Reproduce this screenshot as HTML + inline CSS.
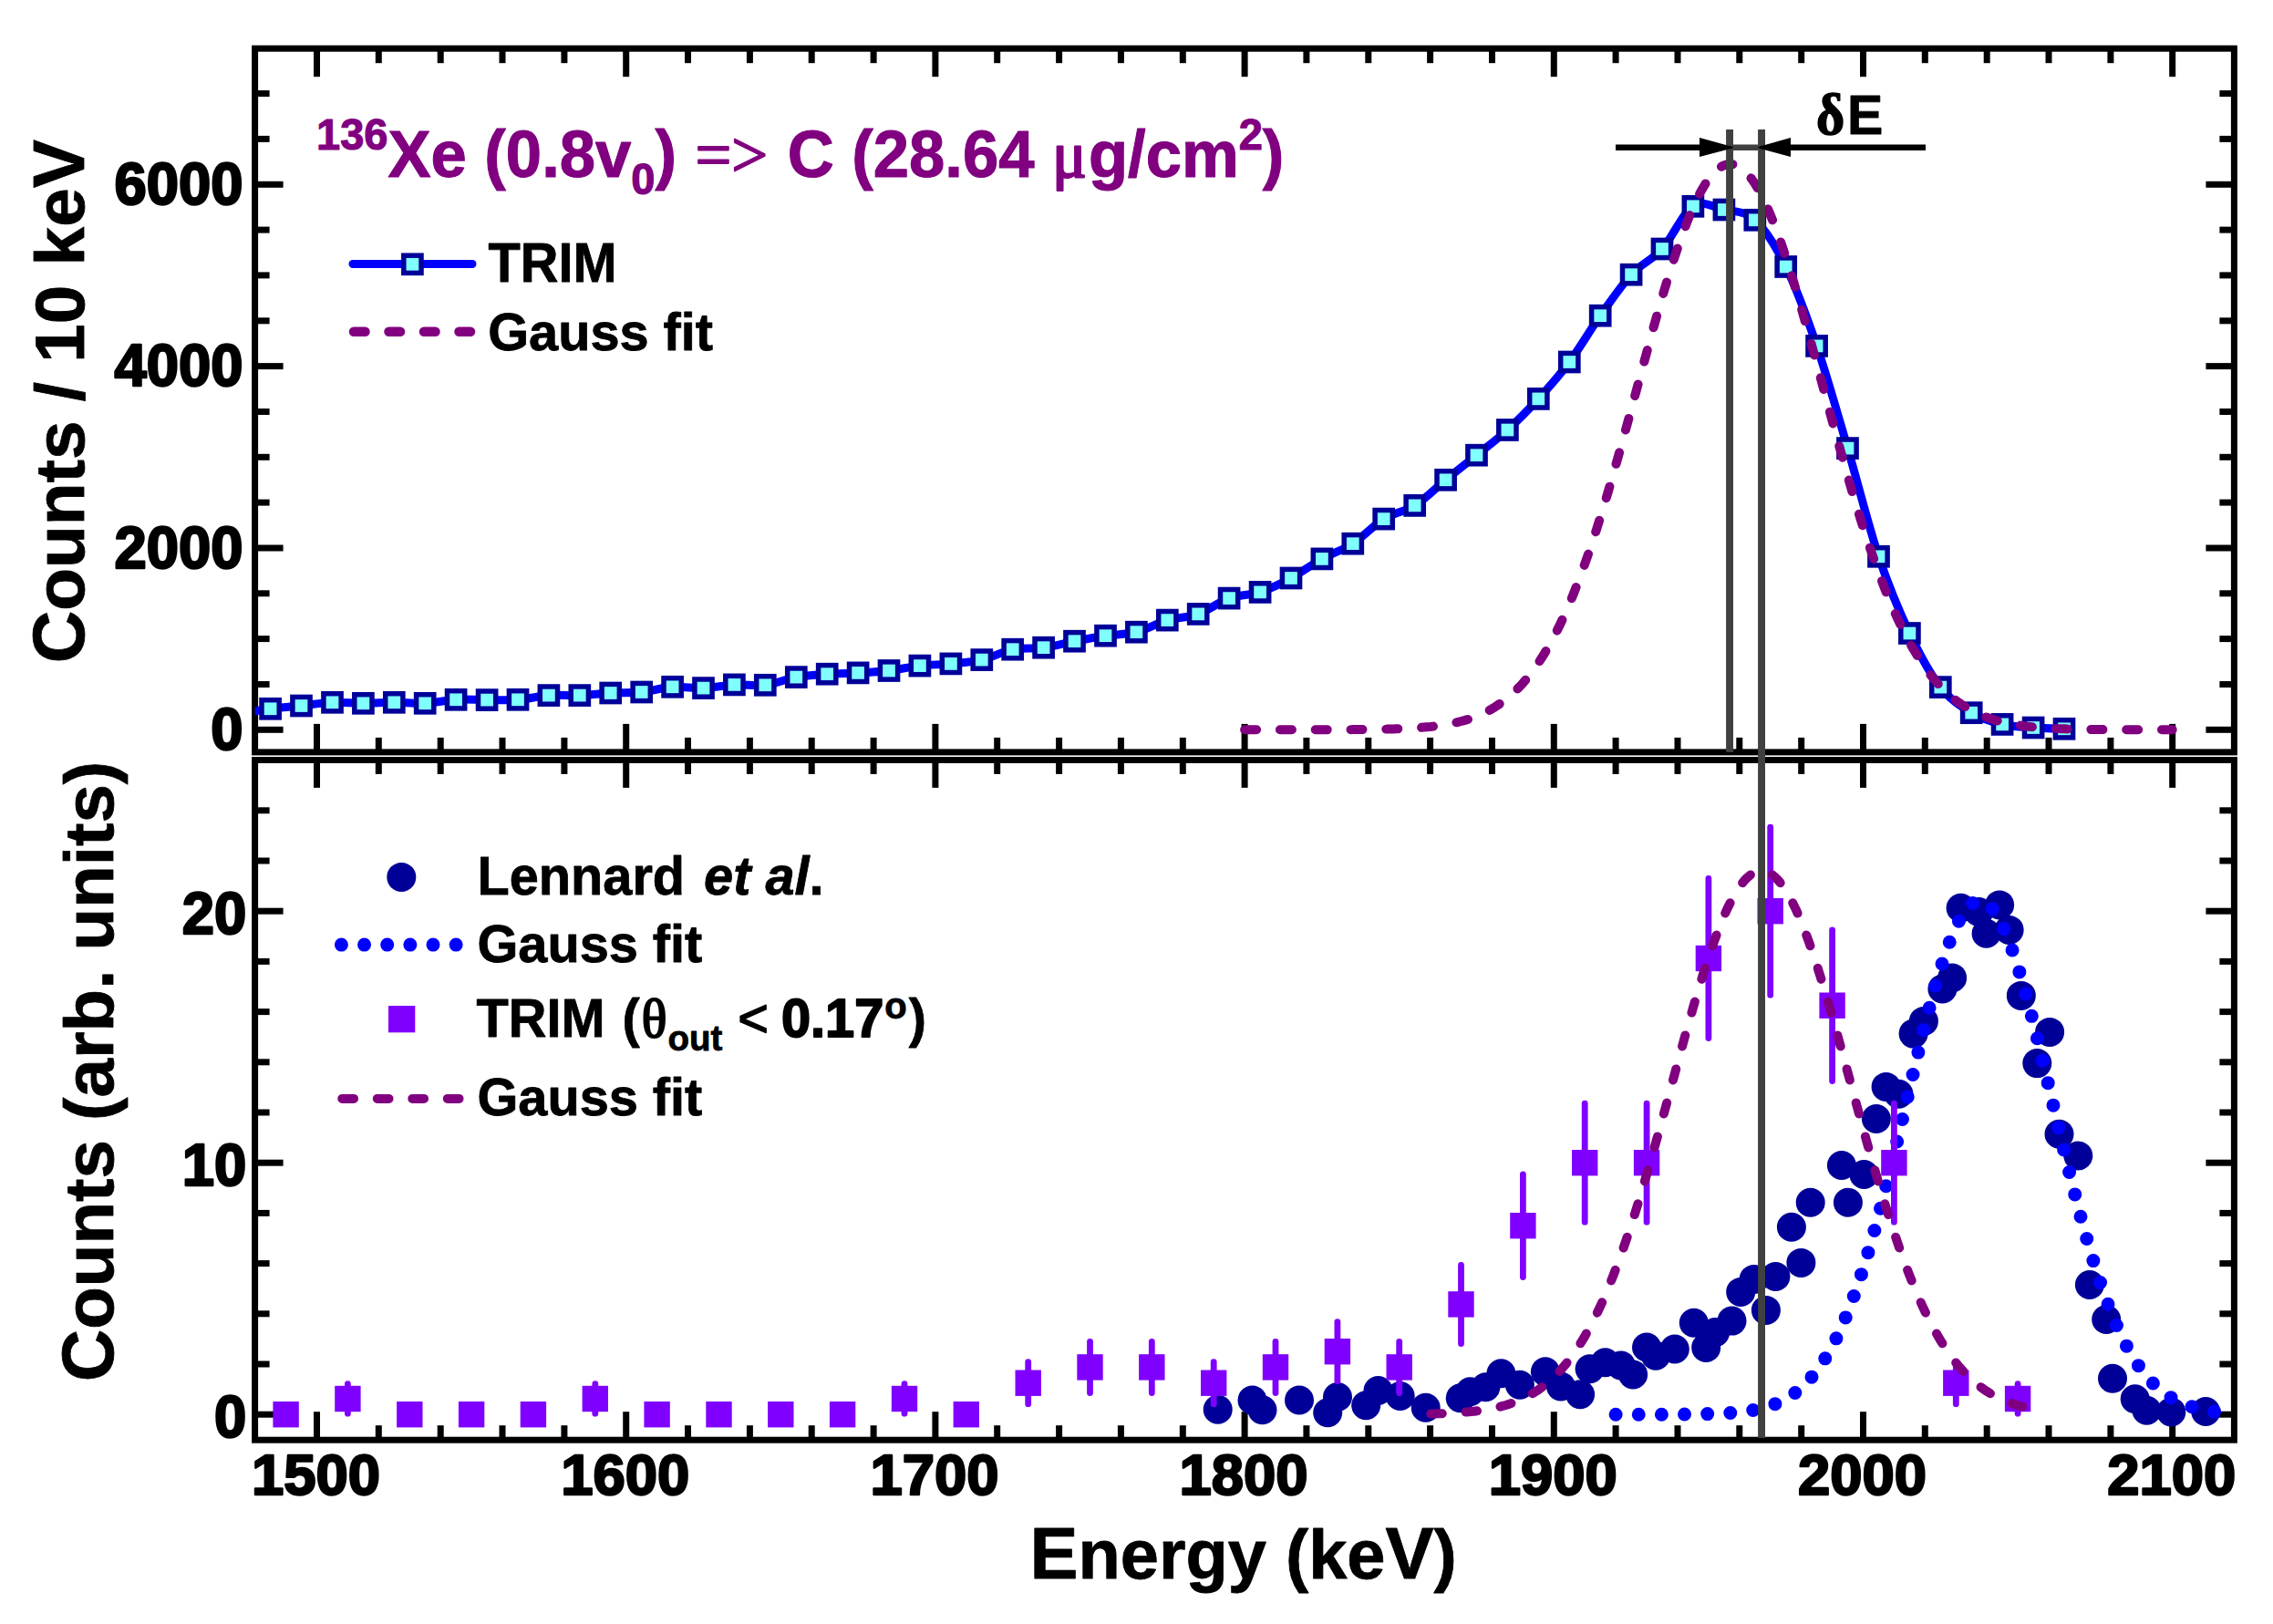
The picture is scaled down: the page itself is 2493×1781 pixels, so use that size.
<!DOCTYPE html>
<html><head><meta charset="utf-8"><title>Energy spectrum</title>
<style>html,body{margin:0;padding:0;background:#fff}svg{display:block}</style></head>
<body>
<svg width="2493" height="1781" viewBox="0 0 2493 1781" font-family="'Liberation Sans', Arial, sans-serif" font-weight="bold">
<rect width="2493" height="1781" fill="#fff"/>
<defs>
<clipPath id="c1"><rect x="279.6" y="53.2" width="2170.8" height="771.6999999999999"/></clipPath>
<clipPath id="c2"><rect x="279.6" y="833.5" width="2170.8" height="745.7"/></clipPath>
</defs>
<g stroke="#000" stroke-width="7" fill="none">
<rect x="279.6" y="53.2" width="2170.8" height="771.6999999999999"/>
<rect x="279.6" y="833.5" width="2170.8" height="745.7"/>
<line x1="347.5" x2="347.5" y1="53.2" y2="84.2"/>
<line x1="347.5" x2="347.5" y1="824.9" y2="793.9"/>
<line x1="347.5" x2="347.5" y1="833.5" y2="863.9"/>
<line x1="347.5" x2="347.5" y1="1579.2" y2="1548.2"/>
<line x1="415.3" x2="415.3" y1="53.2" y2="69.2"/>
<line x1="415.3" x2="415.3" y1="824.9" y2="808.9"/>
<line x1="415.3" x2="415.3" y1="833.5" y2="848.9"/>
<line x1="415.3" x2="415.3" y1="1579.2" y2="1563.2"/>
<line x1="483.2" x2="483.2" y1="53.2" y2="69.2"/>
<line x1="483.2" x2="483.2" y1="824.9" y2="808.9"/>
<line x1="483.2" x2="483.2" y1="833.5" y2="848.9"/>
<line x1="483.2" x2="483.2" y1="1579.2" y2="1563.2"/>
<line x1="551.0" x2="551.0" y1="53.2" y2="69.2"/>
<line x1="551.0" x2="551.0" y1="824.9" y2="808.9"/>
<line x1="551.0" x2="551.0" y1="833.5" y2="848.9"/>
<line x1="551.0" x2="551.0" y1="1579.2" y2="1563.2"/>
<line x1="618.9" x2="618.9" y1="53.2" y2="69.2"/>
<line x1="618.9" x2="618.9" y1="824.9" y2="808.9"/>
<line x1="618.9" x2="618.9" y1="833.5" y2="848.9"/>
<line x1="618.9" x2="618.9" y1="1579.2" y2="1563.2"/>
<line x1="686.7" x2="686.7" y1="53.2" y2="84.2"/>
<line x1="686.7" x2="686.7" y1="824.9" y2="793.9"/>
<line x1="686.7" x2="686.7" y1="833.5" y2="863.9"/>
<line x1="686.7" x2="686.7" y1="1579.2" y2="1548.2"/>
<line x1="754.5" x2="754.5" y1="53.2" y2="69.2"/>
<line x1="754.5" x2="754.5" y1="824.9" y2="808.9"/>
<line x1="754.5" x2="754.5" y1="833.5" y2="848.9"/>
<line x1="754.5" x2="754.5" y1="1579.2" y2="1563.2"/>
<line x1="822.4" x2="822.4" y1="53.2" y2="69.2"/>
<line x1="822.4" x2="822.4" y1="824.9" y2="808.9"/>
<line x1="822.4" x2="822.4" y1="833.5" y2="848.9"/>
<line x1="822.4" x2="822.4" y1="1579.2" y2="1563.2"/>
<line x1="890.2" x2="890.2" y1="53.2" y2="69.2"/>
<line x1="890.2" x2="890.2" y1="824.9" y2="808.9"/>
<line x1="890.2" x2="890.2" y1="833.5" y2="848.9"/>
<line x1="890.2" x2="890.2" y1="1579.2" y2="1563.2"/>
<line x1="958.1" x2="958.1" y1="53.2" y2="69.2"/>
<line x1="958.1" x2="958.1" y1="824.9" y2="808.9"/>
<line x1="958.1" x2="958.1" y1="833.5" y2="848.9"/>
<line x1="958.1" x2="958.1" y1="1579.2" y2="1563.2"/>
<line x1="1025.9" x2="1025.9" y1="53.2" y2="84.2"/>
<line x1="1025.9" x2="1025.9" y1="824.9" y2="793.9"/>
<line x1="1025.9" x2="1025.9" y1="833.5" y2="863.9"/>
<line x1="1025.9" x2="1025.9" y1="1579.2" y2="1548.2"/>
<line x1="1093.7" x2="1093.7" y1="53.2" y2="69.2"/>
<line x1="1093.7" x2="1093.7" y1="824.9" y2="808.9"/>
<line x1="1093.7" x2="1093.7" y1="833.5" y2="848.9"/>
<line x1="1093.7" x2="1093.7" y1="1579.2" y2="1563.2"/>
<line x1="1161.6" x2="1161.6" y1="53.2" y2="69.2"/>
<line x1="1161.6" x2="1161.6" y1="824.9" y2="808.9"/>
<line x1="1161.6" x2="1161.6" y1="833.5" y2="848.9"/>
<line x1="1161.6" x2="1161.6" y1="1579.2" y2="1563.2"/>
<line x1="1229.4" x2="1229.4" y1="53.2" y2="69.2"/>
<line x1="1229.4" x2="1229.4" y1="824.9" y2="808.9"/>
<line x1="1229.4" x2="1229.4" y1="833.5" y2="848.9"/>
<line x1="1229.4" x2="1229.4" y1="1579.2" y2="1563.2"/>
<line x1="1297.3" x2="1297.3" y1="53.2" y2="69.2"/>
<line x1="1297.3" x2="1297.3" y1="824.9" y2="808.9"/>
<line x1="1297.3" x2="1297.3" y1="833.5" y2="848.9"/>
<line x1="1297.3" x2="1297.3" y1="1579.2" y2="1563.2"/>
<line x1="1365.1" x2="1365.1" y1="53.2" y2="84.2"/>
<line x1="1365.1" x2="1365.1" y1="824.9" y2="793.9"/>
<line x1="1365.1" x2="1365.1" y1="833.5" y2="863.9"/>
<line x1="1365.1" x2="1365.1" y1="1579.2" y2="1548.2"/>
<line x1="1432.9" x2="1432.9" y1="53.2" y2="69.2"/>
<line x1="1432.9" x2="1432.9" y1="824.9" y2="808.9"/>
<line x1="1432.9" x2="1432.9" y1="833.5" y2="848.9"/>
<line x1="1432.9" x2="1432.9" y1="1579.2" y2="1563.2"/>
<line x1="1500.8" x2="1500.8" y1="53.2" y2="69.2"/>
<line x1="1500.8" x2="1500.8" y1="824.9" y2="808.9"/>
<line x1="1500.8" x2="1500.8" y1="833.5" y2="848.9"/>
<line x1="1500.8" x2="1500.8" y1="1579.2" y2="1563.2"/>
<line x1="1568.6" x2="1568.6" y1="53.2" y2="69.2"/>
<line x1="1568.6" x2="1568.6" y1="824.9" y2="808.9"/>
<line x1="1568.6" x2="1568.6" y1="833.5" y2="848.9"/>
<line x1="1568.6" x2="1568.6" y1="1579.2" y2="1563.2"/>
<line x1="1636.5" x2="1636.5" y1="53.2" y2="69.2"/>
<line x1="1636.5" x2="1636.5" y1="824.9" y2="808.9"/>
<line x1="1636.5" x2="1636.5" y1="833.5" y2="848.9"/>
<line x1="1636.5" x2="1636.5" y1="1579.2" y2="1563.2"/>
<line x1="1704.3" x2="1704.3" y1="53.2" y2="84.2"/>
<line x1="1704.3" x2="1704.3" y1="824.9" y2="793.9"/>
<line x1="1704.3" x2="1704.3" y1="833.5" y2="863.9"/>
<line x1="1704.3" x2="1704.3" y1="1579.2" y2="1548.2"/>
<line x1="1772.1" x2="1772.1" y1="53.2" y2="69.2"/>
<line x1="1772.1" x2="1772.1" y1="824.9" y2="808.9"/>
<line x1="1772.1" x2="1772.1" y1="833.5" y2="848.9"/>
<line x1="1772.1" x2="1772.1" y1="1579.2" y2="1563.2"/>
<line x1="1840.0" x2="1840.0" y1="53.2" y2="69.2"/>
<line x1="1840.0" x2="1840.0" y1="824.9" y2="808.9"/>
<line x1="1840.0" x2="1840.0" y1="833.5" y2="848.9"/>
<line x1="1840.0" x2="1840.0" y1="1579.2" y2="1563.2"/>
<line x1="1907.8" x2="1907.8" y1="53.2" y2="69.2"/>
<line x1="1907.8" x2="1907.8" y1="824.9" y2="808.9"/>
<line x1="1907.8" x2="1907.8" y1="833.5" y2="848.9"/>
<line x1="1907.8" x2="1907.8" y1="1579.2" y2="1563.2"/>
<line x1="1975.7" x2="1975.7" y1="53.2" y2="69.2"/>
<line x1="1975.7" x2="1975.7" y1="824.9" y2="808.9"/>
<line x1="1975.7" x2="1975.7" y1="833.5" y2="848.9"/>
<line x1="1975.7" x2="1975.7" y1="1579.2" y2="1563.2"/>
<line x1="2043.5" x2="2043.5" y1="53.2" y2="84.2"/>
<line x1="2043.5" x2="2043.5" y1="824.9" y2="793.9"/>
<line x1="2043.5" x2="2043.5" y1="833.5" y2="863.9"/>
<line x1="2043.5" x2="2043.5" y1="1579.2" y2="1548.2"/>
<line x1="2111.3" x2="2111.3" y1="53.2" y2="69.2"/>
<line x1="2111.3" x2="2111.3" y1="824.9" y2="808.9"/>
<line x1="2111.3" x2="2111.3" y1="833.5" y2="848.9"/>
<line x1="2111.3" x2="2111.3" y1="1579.2" y2="1563.2"/>
<line x1="2179.2" x2="2179.2" y1="53.2" y2="69.2"/>
<line x1="2179.2" x2="2179.2" y1="824.9" y2="808.9"/>
<line x1="2179.2" x2="2179.2" y1="833.5" y2="848.9"/>
<line x1="2179.2" x2="2179.2" y1="1579.2" y2="1563.2"/>
<line x1="2247.0" x2="2247.0" y1="53.2" y2="69.2"/>
<line x1="2247.0" x2="2247.0" y1="824.9" y2="808.9"/>
<line x1="2247.0" x2="2247.0" y1="833.5" y2="848.9"/>
<line x1="2247.0" x2="2247.0" y1="1579.2" y2="1563.2"/>
<line x1="2314.9" x2="2314.9" y1="53.2" y2="69.2"/>
<line x1="2314.9" x2="2314.9" y1="824.9" y2="808.9"/>
<line x1="2314.9" x2="2314.9" y1="833.5" y2="848.9"/>
<line x1="2314.9" x2="2314.9" y1="1579.2" y2="1563.2"/>
<line x1="2382.7" x2="2382.7" y1="53.2" y2="84.2"/>
<line x1="2382.7" x2="2382.7" y1="824.9" y2="793.9"/>
<line x1="2382.7" x2="2382.7" y1="833.5" y2="863.9"/>
<line x1="2382.7" x2="2382.7" y1="1579.2" y2="1548.2"/>
<line x1="279.6" x2="310.6" y1="800.3" y2="800.3"/>
<line x1="2450.4" x2="2419.4" y1="800.3" y2="800.3"/>
<line x1="279.6" x2="295.6" y1="750.5" y2="750.5"/>
<line x1="2450.4" x2="2434.4" y1="750.5" y2="750.5"/>
<line x1="279.6" x2="295.6" y1="700.6" y2="700.6"/>
<line x1="2450.4" x2="2434.4" y1="700.6" y2="700.6"/>
<line x1="279.6" x2="295.6" y1="650.8" y2="650.8"/>
<line x1="2450.4" x2="2434.4" y1="650.8" y2="650.8"/>
<line x1="279.6" x2="310.6" y1="601.0" y2="601.0"/>
<line x1="2450.4" x2="2419.4" y1="601.0" y2="601.0"/>
<line x1="279.6" x2="295.6" y1="551.1" y2="551.1"/>
<line x1="2450.4" x2="2434.4" y1="551.1" y2="551.1"/>
<line x1="279.6" x2="295.6" y1="501.3" y2="501.3"/>
<line x1="2450.4" x2="2434.4" y1="501.3" y2="501.3"/>
<line x1="279.6" x2="295.6" y1="451.5" y2="451.5"/>
<line x1="2450.4" x2="2434.4" y1="451.5" y2="451.5"/>
<line x1="279.6" x2="310.6" y1="401.6" y2="401.6"/>
<line x1="2450.4" x2="2419.4" y1="401.6" y2="401.6"/>
<line x1="279.6" x2="295.6" y1="351.8" y2="351.8"/>
<line x1="2450.4" x2="2434.4" y1="351.8" y2="351.8"/>
<line x1="279.6" x2="295.6" y1="301.9" y2="301.9"/>
<line x1="2450.4" x2="2434.4" y1="301.9" y2="301.9"/>
<line x1="279.6" x2="295.6" y1="252.1" y2="252.1"/>
<line x1="2450.4" x2="2434.4" y1="252.1" y2="252.1"/>
<line x1="279.6" x2="310.6" y1="202.3" y2="202.3"/>
<line x1="2450.4" x2="2419.4" y1="202.3" y2="202.3"/>
<line x1="279.6" x2="295.6" y1="152.4" y2="152.4"/>
<line x1="2450.4" x2="2434.4" y1="152.4" y2="152.4"/>
<line x1="279.6" x2="295.6" y1="102.6" y2="102.6"/>
<line x1="2450.4" x2="2434.4" y1="102.6" y2="102.6"/>
<line x1="279.6" x2="310.6" y1="1551.2" y2="1551.2"/>
<line x1="2450.4" x2="2419.4" y1="1551.2" y2="1551.2"/>
<line x1="279.6" x2="295.6" y1="1496.0" y2="1496.0"/>
<line x1="2450.4" x2="2434.4" y1="1496.0" y2="1496.0"/>
<line x1="279.6" x2="295.6" y1="1440.8" y2="1440.8"/>
<line x1="2450.4" x2="2434.4" y1="1440.8" y2="1440.8"/>
<line x1="279.6" x2="295.6" y1="1385.6" y2="1385.6"/>
<line x1="2450.4" x2="2434.4" y1="1385.6" y2="1385.6"/>
<line x1="279.6" x2="295.6" y1="1330.4" y2="1330.4"/>
<line x1="2450.4" x2="2434.4" y1="1330.4" y2="1330.4"/>
<line x1="279.6" x2="310.6" y1="1275.2" y2="1275.2"/>
<line x1="2450.4" x2="2419.4" y1="1275.2" y2="1275.2"/>
<line x1="279.6" x2="295.6" y1="1220.0" y2="1220.0"/>
<line x1="2450.4" x2="2434.4" y1="1220.0" y2="1220.0"/>
<line x1="279.6" x2="295.6" y1="1164.8" y2="1164.8"/>
<line x1="2450.4" x2="2434.4" y1="1164.8" y2="1164.8"/>
<line x1="279.6" x2="295.6" y1="1109.6" y2="1109.6"/>
<line x1="2450.4" x2="2434.4" y1="1109.6" y2="1109.6"/>
<line x1="279.6" x2="295.6" y1="1054.4" y2="1054.4"/>
<line x1="2450.4" x2="2434.4" y1="1054.4" y2="1054.4"/>
<line x1="279.6" x2="310.6" y1="999.2" y2="999.2"/>
<line x1="2450.4" x2="2419.4" y1="999.2" y2="999.2"/>
<line x1="279.6" x2="295.6" y1="944.0" y2="944.0"/>
<line x1="2450.4" x2="2434.4" y1="944.0" y2="944.0"/>
<line x1="279.6" x2="295.6" y1="888.8" y2="888.8"/>
<line x1="2450.4" x2="2434.4" y1="888.8" y2="888.8"/>
</g>
<g clip-path="url(#c1)">
<path d="M279.6 780.0 C282.4 779.5 288.1 778.3 296.6 777.3 C305.1 776.3 319.2 775.2 330.5 774.0 C341.8 772.8 353.2 770.8 364.5 770.3 C375.8 769.8 387.1 771.3 398.4 771.3 C409.7 771.3 421.0 770.3 432.3 770.3 C443.6 770.3 454.9 771.8 466.2 771.3 C477.5 770.8 488.8 767.9 500.1 767.3 C511.4 766.7 522.8 767.6 534.1 767.6 C545.4 767.6 556.7 768.1 568.0 767.3 C579.3 766.5 590.6 763.4 601.9 762.6 C613.2 761.8 624.5 763.0 635.8 762.6 C647.1 762.2 658.4 760.6 669.7 760.0 C681.0 759.4 692.4 760.1 703.7 759.0 C715.0 757.9 726.3 754.0 737.6 753.3 C748.9 752.6 760.2 755.0 771.5 754.6 C782.8 754.2 794.1 751.5 805.4 750.9 C816.7 750.3 828.0 752.7 839.3 751.3 C850.6 749.9 862.0 744.6 873.3 742.6 C884.6 740.6 895.9 740.0 907.2 739.2 C918.5 738.4 929.8 738.5 941.1 737.9 C952.4 737.3 963.7 736.8 975.0 735.5 C986.3 734.2 997.6 731.4 1008.9 730.1 C1020.2 728.8 1031.6 729.0 1042.9 727.9 C1054.2 726.8 1065.5 726.2 1076.8 723.6 C1088.1 721.0 1099.4 714.4 1110.7 712.2 C1122.0 710.0 1133.3 711.7 1144.6 710.2 C1155.9 708.7 1167.2 705.4 1178.5 703.2 C1189.8 701.0 1201.2 698.9 1212.5 697.2 C1223.8 695.5 1235.1 696.1 1246.4 693.2 C1257.7 690.4 1269.0 683.4 1280.3 680.1 C1291.6 676.8 1302.9 677.4 1314.2 673.4 C1325.5 669.4 1336.8 660.1 1348.1 656.1 C1359.4 652.1 1370.8 653.1 1382.1 649.4 C1393.4 645.7 1404.7 640.1 1416.0 634.0 C1427.3 627.9 1438.6 619.2 1449.9 612.9 C1461.2 606.6 1472.5 603.5 1483.8 596.2 C1495.1 588.9 1506.4 576.1 1517.7 569.1 C1529.0 562.1 1540.4 561.5 1551.7 554.4 C1563.0 547.3 1574.3 535.5 1585.6 526.3 C1596.9 517.1 1608.2 508.3 1619.5 499.2 C1630.8 490.1 1642.1 481.8 1653.4 471.5 C1664.7 461.2 1676.0 449.8 1687.3 437.4 C1698.6 425.0 1710.0 412.2 1721.3 397.0 C1732.6 381.8 1743.9 362.2 1755.2 346.2 C1766.5 330.3 1777.8 313.5 1789.1 301.2 C1800.4 289.0 1811.7 285.5 1823.0 273.0 C1834.3 260.5 1845.6 233.4 1856.9 226.2 C1868.2 219.1 1879.6 227.5 1890.9 230.0 C1902.2 232.5 1913.5 230.8 1924.8 241.2 C1936.1 251.7 1947.4 269.5 1958.7 292.5 C1970.0 315.5 1981.3 346.2 1992.6 379.4 C2003.9 412.6 2015.2 453.1 2026.5 491.6 C2037.8 530.1 2049.2 576.5 2060.5 610.3 C2071.8 644.1 2083.1 670.6 2094.4 694.5 C2105.7 718.4 2117.0 739.1 2128.3 753.6 C2139.6 768.1 2150.9 774.9 2162.2 781.7 C2173.5 788.5 2184.8 791.7 2196.1 794.4 C2207.4 797.1 2218.8 797.2 2230.1 798.0 C2241.4 798.8 2258.3 799.1 2264.0 799.3" fill="none" stroke="#0000ff" stroke-width="9" stroke-linejoin="round" stroke-linecap="round"/>
<rect x="287.0" y="767.7" width="19.2" height="19.2" fill="#80ffff" stroke="#000099" stroke-width="5.5"/>
<rect x="320.9" y="764.4" width="19.2" height="19.2" fill="#80ffff" stroke="#000099" stroke-width="5.5"/>
<rect x="354.9" y="760.7" width="19.2" height="19.2" fill="#80ffff" stroke="#000099" stroke-width="5.5"/>
<rect x="388.8" y="761.7" width="19.2" height="19.2" fill="#80ffff" stroke="#000099" stroke-width="5.5"/>
<rect x="422.7" y="760.7" width="19.2" height="19.2" fill="#80ffff" stroke="#000099" stroke-width="5.5"/>
<rect x="456.6" y="761.7" width="19.2" height="19.2" fill="#80ffff" stroke="#000099" stroke-width="5.5"/>
<rect x="490.5" y="757.7" width="19.2" height="19.2" fill="#80ffff" stroke="#000099" stroke-width="5.5"/>
<rect x="524.5" y="758.0" width="19.2" height="19.2" fill="#80ffff" stroke="#000099" stroke-width="5.5"/>
<rect x="558.4" y="757.7" width="19.2" height="19.2" fill="#80ffff" stroke="#000099" stroke-width="5.5"/>
<rect x="592.3" y="753.0" width="19.2" height="19.2" fill="#80ffff" stroke="#000099" stroke-width="5.5"/>
<rect x="626.2" y="753.0" width="19.2" height="19.2" fill="#80ffff" stroke="#000099" stroke-width="5.5"/>
<rect x="660.1" y="750.4" width="19.2" height="19.2" fill="#80ffff" stroke="#000099" stroke-width="5.5"/>
<rect x="694.1" y="749.4" width="19.2" height="19.2" fill="#80ffff" stroke="#000099" stroke-width="5.5"/>
<rect x="728.0" y="743.7" width="19.2" height="19.2" fill="#80ffff" stroke="#000099" stroke-width="5.5"/>
<rect x="761.9" y="745.0" width="19.2" height="19.2" fill="#80ffff" stroke="#000099" stroke-width="5.5"/>
<rect x="795.8" y="741.3" width="19.2" height="19.2" fill="#80ffff" stroke="#000099" stroke-width="5.5"/>
<rect x="829.7" y="741.7" width="19.2" height="19.2" fill="#80ffff" stroke="#000099" stroke-width="5.5"/>
<rect x="863.7" y="733.0" width="19.2" height="19.2" fill="#80ffff" stroke="#000099" stroke-width="5.5"/>
<rect x="897.6" y="729.6" width="19.2" height="19.2" fill="#80ffff" stroke="#000099" stroke-width="5.5"/>
<rect x="931.5" y="728.3" width="19.2" height="19.2" fill="#80ffff" stroke="#000099" stroke-width="5.5"/>
<rect x="965.4" y="725.9" width="19.2" height="19.2" fill="#80ffff" stroke="#000099" stroke-width="5.5"/>
<rect x="999.3" y="720.5" width="19.2" height="19.2" fill="#80ffff" stroke="#000099" stroke-width="5.5"/>
<rect x="1033.3" y="718.3" width="19.2" height="19.2" fill="#80ffff" stroke="#000099" stroke-width="5.5"/>
<rect x="1067.2" y="714.0" width="19.2" height="19.2" fill="#80ffff" stroke="#000099" stroke-width="5.5"/>
<rect x="1101.1" y="702.6" width="19.2" height="19.2" fill="#80ffff" stroke="#000099" stroke-width="5.5"/>
<rect x="1135.0" y="700.6" width="19.2" height="19.2" fill="#80ffff" stroke="#000099" stroke-width="5.5"/>
<rect x="1168.9" y="693.6" width="19.2" height="19.2" fill="#80ffff" stroke="#000099" stroke-width="5.5"/>
<rect x="1202.9" y="687.6" width="19.2" height="19.2" fill="#80ffff" stroke="#000099" stroke-width="5.5"/>
<rect x="1236.8" y="683.6" width="19.2" height="19.2" fill="#80ffff" stroke="#000099" stroke-width="5.5"/>
<rect x="1270.7" y="670.5" width="19.2" height="19.2" fill="#80ffff" stroke="#000099" stroke-width="5.5"/>
<rect x="1304.6" y="663.8" width="19.2" height="19.2" fill="#80ffff" stroke="#000099" stroke-width="5.5"/>
<rect x="1338.5" y="646.5" width="19.2" height="19.2" fill="#80ffff" stroke="#000099" stroke-width="5.5"/>
<rect x="1372.5" y="639.8" width="19.2" height="19.2" fill="#80ffff" stroke="#000099" stroke-width="5.5"/>
<rect x="1406.4" y="624.4" width="19.2" height="19.2" fill="#80ffff" stroke="#000099" stroke-width="5.5"/>
<rect x="1440.3" y="603.3" width="19.2" height="19.2" fill="#80ffff" stroke="#000099" stroke-width="5.5"/>
<rect x="1474.2" y="586.6" width="19.2" height="19.2" fill="#80ffff" stroke="#000099" stroke-width="5.5"/>
<rect x="1508.1" y="559.5" width="19.2" height="19.2" fill="#80ffff" stroke="#000099" stroke-width="5.5"/>
<rect x="1542.1" y="544.8" width="19.2" height="19.2" fill="#80ffff" stroke="#000099" stroke-width="5.5"/>
<rect x="1576.0" y="516.7" width="19.2" height="19.2" fill="#80ffff" stroke="#000099" stroke-width="5.5"/>
<rect x="1609.9" y="489.6" width="19.2" height="19.2" fill="#80ffff" stroke="#000099" stroke-width="5.5"/>
<rect x="1643.8" y="461.9" width="19.2" height="19.2" fill="#80ffff" stroke="#000099" stroke-width="5.5"/>
<rect x="1677.7" y="427.8" width="19.2" height="19.2" fill="#80ffff" stroke="#000099" stroke-width="5.5"/>
<rect x="1711.7" y="387.4" width="19.2" height="19.2" fill="#80ffff" stroke="#000099" stroke-width="5.5"/>
<rect x="1745.6" y="336.6" width="19.2" height="19.2" fill="#80ffff" stroke="#000099" stroke-width="5.5"/>
<rect x="1779.5" y="291.6" width="19.2" height="19.2" fill="#80ffff" stroke="#000099" stroke-width="5.5"/>
<rect x="1813.4" y="263.4" width="19.2" height="19.2" fill="#80ffff" stroke="#000099" stroke-width="5.5"/>
<rect x="1847.3" y="216.7" width="19.2" height="19.2" fill="#80ffff" stroke="#000099" stroke-width="5.5"/>
<rect x="1881.3" y="220.4" width="19.2" height="19.2" fill="#80ffff" stroke="#000099" stroke-width="5.5"/>
<rect x="1915.2" y="231.7" width="19.2" height="19.2" fill="#80ffff" stroke="#000099" stroke-width="5.5"/>
<rect x="1949.1" y="282.9" width="19.2" height="19.2" fill="#80ffff" stroke="#000099" stroke-width="5.5"/>
<rect x="1983.0" y="369.8" width="19.2" height="19.2" fill="#80ffff" stroke="#000099" stroke-width="5.5"/>
<rect x="2016.9" y="482.0" width="19.2" height="19.2" fill="#80ffff" stroke="#000099" stroke-width="5.5"/>
<rect x="2050.9" y="600.7" width="19.2" height="19.2" fill="#80ffff" stroke="#000099" stroke-width="5.5"/>
<rect x="2084.8" y="684.9" width="19.2" height="19.2" fill="#80ffff" stroke="#000099" stroke-width="5.5"/>
<rect x="2118.7" y="744.0" width="19.2" height="19.2" fill="#80ffff" stroke="#000099" stroke-width="5.5"/>
<rect x="2152.6" y="772.1" width="19.2" height="19.2" fill="#80ffff" stroke="#000099" stroke-width="5.5"/>
<rect x="2186.5" y="784.8" width="19.2" height="19.2" fill="#80ffff" stroke="#000099" stroke-width="5.5"/>
<rect x="2220.5" y="788.4" width="19.2" height="19.2" fill="#80ffff" stroke="#000099" stroke-width="5.5"/>
<rect x="2254.4" y="789.7" width="19.2" height="19.2" fill="#80ffff" stroke="#000099" stroke-width="5.5"/>
<path d="M1365.1 800.3 L1368.5 800.3 L1371.9 800.3 L1375.3 800.3 L1378.7 800.3 L1382.1 800.3 L1385.5 800.3 L1388.8 800.3 L1392.2 800.3 L1395.6 800.3 L1399.0 800.3 L1402.4 800.3 L1405.8 800.3 L1409.2 800.3 L1412.6 800.3 L1416.0 800.3 L1419.4 800.3 L1422.8 800.3 L1426.2 800.3 L1429.5 800.3 L1432.9 800.3 L1436.3 800.3 L1439.7 800.3 L1443.1 800.3 L1446.5 800.3 L1449.9 800.3 L1453.3 800.3 L1456.7 800.2 L1460.1 800.2 L1463.5 800.2 L1466.9 800.2 L1470.3 800.2 L1473.6 800.2 L1477.0 800.2 L1480.4 800.2 L1483.8 800.1 L1487.2 800.1 L1490.6 800.1 L1494.0 800.1 L1497.4 800.0 L1500.8 800.0 L1504.2 799.9 L1507.6 799.9 L1511.0 799.8 L1514.3 799.8 L1517.7 799.7 L1521.1 799.6 L1524.5 799.6 L1527.9 799.5 L1531.3 799.3 L1534.7 799.2 L1538.1 799.1 L1541.5 798.9 L1544.9 798.8 L1548.3 798.6 L1551.7 798.4 L1555.1 798.2 L1558.4 797.9 L1561.8 797.6 L1565.2 797.3 L1568.6 797.0 L1572.0 796.6 L1575.4 796.2 L1578.8 795.7 L1582.2 795.2 L1585.6 794.7 L1589.0 794.1 L1592.4 793.4 L1595.8 792.7 L1599.1 791.9 L1602.5 791.0 L1605.9 790.1 L1609.3 789.1 L1612.7 788.0 L1616.1 786.8 L1619.5 785.5 L1622.9 784.1 L1626.3 782.6 L1629.7 780.9 L1633.1 779.2 L1636.5 777.3 L1639.9 775.2 L1643.2 773.0 L1646.6 770.7 L1650.0 768.2 L1653.4 765.5 L1656.8 762.6 L1660.2 759.5 L1663.6 756.2 L1667.0 752.8 L1670.4 749.1 L1673.8 745.1 L1677.2 741.0 L1680.6 736.6 L1683.9 731.9 L1687.3 727.0 L1690.7 721.8 L1694.1 716.3 L1697.5 710.6 L1700.9 704.6 L1704.3 698.3 L1707.7 691.6 L1711.1 684.7 L1714.5 677.5 L1717.9 670.0 L1721.3 662.2 L1724.7 654.0 L1728.0 645.6 L1731.4 636.8 L1734.8 627.8 L1738.2 618.4 L1741.6 608.8 L1745.0 598.9 L1748.4 588.7 L1751.8 578.2 L1755.2 567.4 L1758.6 556.5 L1762.0 545.2 L1765.4 533.8 L1768.7 522.1 L1772.1 510.3 L1775.5 498.3 L1778.9 486.1 L1782.3 473.9 L1785.7 461.5 L1789.1 449.0 L1792.5 436.5 L1795.9 424.0 L1799.3 411.4 L1802.7 398.9 L1806.1 386.5 L1809.5 374.1 L1812.8 361.9 L1816.2 349.8 L1819.6 337.8 L1823.0 326.1 L1826.4 314.7 L1829.8 303.5 L1833.2 292.6 L1836.6 282.1 L1840.0 271.9 L1843.4 262.1 L1846.8 252.8 L1850.2 243.9 L1853.5 235.5 L1856.9 227.6 L1860.3 220.2 L1863.7 213.4 L1867.1 207.2 L1870.5 201.5 L1873.9 196.5 L1877.3 192.1 L1880.7 188.4 L1884.1 185.3 L1887.5 182.9 L1890.9 181.2 L1894.3 180.2 L1897.6 179.9 L1901.0 180.2 L1904.4 181.2 L1907.8 182.9 L1911.2 185.3 L1914.6 188.4 L1918.0 192.1 L1921.4 196.5 L1924.8 201.5 L1928.2 207.2 L1931.6 213.4 L1935.0 220.2 L1938.3 227.6 L1941.7 235.5 L1945.1 243.9 L1948.5 252.8 L1951.9 262.1 L1955.3 271.9 L1958.7 282.1 L1962.1 292.6 L1965.5 303.5 L1968.9 314.7 L1972.3 326.1 L1975.7 337.8 L1979.1 349.8 L1982.4 361.9 L1985.8 374.1 L1989.2 386.5 L1992.6 398.9 L1996.0 411.4 L1999.4 424.0 L2002.8 436.5 L2006.2 449.0 L2009.6 461.5 L2013.0 473.9 L2016.4 486.1 L2019.8 498.3 L2023.1 510.3 L2026.5 522.1 L2029.9 533.8 L2033.3 545.2 L2036.7 556.5 L2040.1 567.4 L2043.5 578.2 L2046.9 588.7 L2050.3 598.9 L2053.7 608.8 L2057.1 618.4 L2060.5 627.8 L2063.9 636.8 L2067.2 645.6 L2070.6 654.0 L2074.0 662.2 L2077.4 670.0 L2080.8 677.5 L2084.2 684.7 L2087.6 691.6 L2091.0 698.3 L2094.4 704.6 L2097.8 710.6 L2101.2 716.3 L2104.6 721.8 L2107.9 727.0 L2111.3 731.9 L2114.7 736.6 L2118.1 741.0 L2121.5 745.1 L2124.9 749.1 L2128.3 752.8 L2131.7 756.2 L2135.1 759.5 L2138.5 762.6 L2141.9 765.5 L2145.3 768.2 L2148.7 770.7 L2152.0 773.0 L2155.4 775.2 L2158.8 777.3 L2162.2 779.2 L2165.6 780.9 L2169.0 782.6 L2172.4 784.1 L2175.8 785.5 L2179.2 786.8 L2182.6 788.0 L2186.0 789.1 L2189.4 790.1 L2192.7 791.0 L2196.1 791.9 L2199.5 792.7 L2202.9 793.4 L2206.3 794.1 L2209.7 794.7 L2213.1 795.2 L2216.5 795.7 L2219.9 796.2 L2223.3 796.6 L2226.7 797.0 L2230.1 797.3 L2233.5 797.6 L2236.8 797.9 L2240.2 798.2 L2243.6 798.4 L2247.0 798.6 L2250.4 798.8 L2253.8 798.9 L2257.2 799.1 L2260.6 799.2 L2264.0 799.3 L2267.4 799.5 L2270.8 799.6 L2274.2 799.6 L2277.5 799.7 L2280.9 799.8 L2284.3 799.8 L2287.7 799.9 L2291.1 799.9 L2294.5 800.0 L2297.9 800.0 L2301.3 800.1 L2304.7 800.1 L2308.1 800.1 L2311.5 800.1 L2314.9 800.2 L2318.3 800.2 L2321.6 800.2 L2325.0 800.2 L2328.4 800.2 L2331.8 800.2 L2335.2 800.2 L2338.6 800.2 L2342.0 800.3 L2345.4 800.3 L2348.8 800.3 L2352.2 800.3 L2355.6 800.3 L2359.0 800.3 L2362.3 800.3 L2365.7 800.3 L2369.1 800.3 L2372.5 800.3 L2375.9 800.3 L2379.3 800.3 L2382.7 800.3" fill="none" stroke="#800080" stroke-width="10" stroke-dasharray="13 25.8" stroke-linecap="round" stroke-linejoin="round"/>
</g>
<g clip-path="url(#c2)">
<circle cx="1335.7" cy="1545.7" r="16" fill="#000099"/>
<circle cx="1373.5" cy="1535.5" r="16" fill="#000099"/>
<circle cx="1384.5" cy="1546.2" r="16" fill="#000099"/>
<circle cx="1425.0" cy="1535.5" r="16" fill="#000099"/>
<circle cx="1456.2" cy="1549.2" r="16" fill="#000099"/>
<circle cx="1467.0" cy="1532.0" r="16" fill="#000099"/>
<circle cx="1498.2" cy="1541.2" r="16" fill="#000099"/>
<circle cx="1511.5" cy="1525.0" r="16" fill="#000099"/>
<circle cx="1535.7" cy="1531.0" r="16" fill="#000099"/>
<circle cx="1563.7" cy="1543.7" r="16" fill="#000099"/>
<circle cx="1601.7" cy="1533.2" r="16" fill="#000099"/>
<circle cx="1612.4" cy="1526.2" r="16" fill="#000099"/>
<circle cx="1629.4" cy="1521.2" r="16" fill="#000099"/>
<circle cx="1646.4" cy="1506.2" r="16" fill="#000099"/>
<circle cx="1666.9" cy="1518.7" r="16" fill="#000099"/>
<circle cx="1694.9" cy="1504.2" r="16" fill="#000099"/>
<circle cx="1711.9" cy="1520.4" r="16" fill="#000099"/>
<circle cx="1733.1" cy="1529.2" r="16" fill="#000099"/>
<circle cx="1743.6" cy="1501.2" r="16" fill="#000099"/>
<circle cx="1760.6" cy="1494.2" r="16" fill="#000099"/>
<circle cx="1777.8" cy="1497.4" r="16" fill="#000099"/>
<circle cx="1791.1" cy="1507.4" r="16" fill="#000099"/>
<circle cx="1806.0" cy="1477.5" r="16" fill="#000099"/>
<circle cx="1816.0" cy="1486.7" r="16" fill="#000099"/>
<circle cx="1836.8" cy="1479.5" r="16" fill="#000099"/>
<circle cx="1857.8" cy="1450.7" r="16" fill="#000099"/>
<circle cx="1871.2" cy="1477.9" r="16" fill="#000099"/>
<circle cx="1881.2" cy="1461.1" r="16" fill="#000099"/>
<circle cx="1899.5" cy="1448.6" r="16" fill="#000099"/>
<circle cx="1909.2" cy="1416.9" r="16" fill="#000099"/>
<circle cx="1923.7" cy="1402.9" r="16" fill="#000099"/>
<circle cx="1936.9" cy="1436.9" r="16" fill="#000099"/>
<circle cx="1947.4" cy="1399.9" r="16" fill="#000099"/>
<circle cx="1975.4" cy="1384.9" r="16" fill="#000099"/>
<circle cx="1964.9" cy="1345.7" r="16" fill="#000099"/>
<circle cx="1985.7" cy="1318.7" r="16" fill="#000099"/>
<circle cx="2019.9" cy="1278.0" r="16" fill="#000099"/>
<circle cx="2026.9" cy="1318.7" r="16" fill="#000099"/>
<circle cx="2044.4" cy="1288.0" r="16" fill="#000099"/>
<circle cx="2057.9" cy="1227.0" r="16" fill="#000099"/>
<circle cx="2068.6" cy="1191.9" r="16" fill="#000099"/>
<circle cx="2082.4" cy="1199.8" r="16" fill="#000099"/>
<circle cx="2098.6" cy="1133.6" r="16" fill="#000099"/>
<circle cx="2109.9" cy="1119.9" r="16" fill="#000099"/>
<circle cx="2130.4" cy="1084.4" r="16" fill="#000099"/>
<circle cx="2141.1" cy="1072.4" r="16" fill="#000099"/>
<circle cx="2150.6" cy="995.7" r="16" fill="#000099"/>
<circle cx="2170.2" cy="1000.0" r="16" fill="#000099"/>
<circle cx="2193.1" cy="992.4" r="16" fill="#000099"/>
<circle cx="2178.6" cy="1023.7" r="16" fill="#000099"/>
<circle cx="2203.6" cy="1019.9" r="16" fill="#000099"/>
<circle cx="2216.8" cy="1091.9" r="16" fill="#000099"/>
<circle cx="2248.1" cy="1131.9" r="16" fill="#000099"/>
<circle cx="2234.3" cy="1166.1" r="16" fill="#000099"/>
<circle cx="2258.5" cy="1243.7" r="16" fill="#000099"/>
<circle cx="2279.3" cy="1267.5" r="16" fill="#000099"/>
<circle cx="2291.9" cy="1409.0" r="16" fill="#000099"/>
<circle cx="2310.2" cy="1447.0" r="16" fill="#000099"/>
<circle cx="2317.0" cy="1511.8" r="16" fill="#000099"/>
<circle cx="2341.7" cy="1534.2" r="16" fill="#000099"/>
<circle cx="2354.5" cy="1546.7" r="16" fill="#000099"/>
<circle cx="2381.3" cy="1548.4" r="16" fill="#000099"/>
<circle cx="2419.2" cy="1548.0" r="16" fill="#000099"/>
<path d="M1772.1 1551.2 L1773.8 1551.2 L1775.5 1551.2 L1777.2 1551.2 L1778.9 1551.2 L1780.6 1551.2 L1782.3 1551.2 L1784.0 1551.2 L1785.7 1551.2 L1787.4 1551.2 L1789.1 1551.2 L1790.8 1551.2 L1792.5 1551.2 L1794.2 1551.2 L1795.9 1551.2 L1797.6 1551.2 L1799.3 1551.2 L1801.0 1551.2 L1802.7 1551.2 L1804.4 1551.2 L1806.1 1551.2 L1807.8 1551.2 L1809.5 1551.2 L1811.1 1551.2 L1812.8 1551.2 L1814.5 1551.2 L1816.2 1551.2 L1817.9 1551.2 L1819.6 1551.2 L1821.3 1551.2 L1823.0 1551.2 L1824.7 1551.1 L1826.4 1551.1 L1828.1 1551.1 L1829.8 1551.1 L1831.5 1551.1 L1833.2 1551.1 L1834.9 1551.1 L1836.6 1551.1 L1838.3 1551.1 L1840.0 1551.1 L1841.7 1551.1 L1843.4 1551.1 L1845.1 1551.0 L1846.8 1551.0 L1848.5 1551.0 L1850.2 1551.0 L1851.9 1551.0 L1853.5 1551.0 L1855.2 1550.9 L1856.9 1550.9 L1858.6 1550.9 L1860.3 1550.9 L1862.0 1550.9 L1863.7 1550.8 L1865.4 1550.8 L1867.1 1550.8 L1868.8 1550.7 L1870.5 1550.7 L1872.2 1550.6 L1873.9 1550.6 L1875.6 1550.5 L1877.3 1550.5 L1879.0 1550.4 L1880.7 1550.4 L1882.4 1550.3 L1884.1 1550.2 L1885.8 1550.2 L1887.5 1550.1 L1889.2 1550.0 L1890.9 1549.9 L1892.6 1549.8 L1894.3 1549.7 L1895.9 1549.6 L1897.6 1549.5 L1899.3 1549.3 L1901.0 1549.2 L1902.7 1549.1 L1904.4 1548.9 L1906.1 1548.7 L1907.8 1548.6 L1909.5 1548.4 L1911.2 1548.2 L1912.9 1548.0 L1914.6 1547.7 L1916.3 1547.5 L1918.0 1547.2 L1919.7 1547.0 L1921.4 1546.7 L1923.1 1546.4 L1924.8 1546.0 L1926.5 1545.7 L1928.2 1545.3 L1929.9 1544.9 L1931.6 1544.5 L1933.3 1544.1 L1935.0 1543.7 L1936.7 1543.2 L1938.3 1542.7 L1940.0 1542.1 L1941.7 1541.6 L1943.4 1541.0 L1945.1 1540.3 L1946.8 1539.7 L1948.5 1539.0 L1950.2 1538.3 L1951.9 1537.5 L1953.6 1536.7 L1955.3 1535.8 L1957.0 1534.9 L1958.7 1534.0 L1960.4 1533.0 L1962.1 1532.0 L1963.8 1530.9 L1965.5 1529.8 L1967.2 1528.6 L1968.9 1527.4 L1970.6 1526.1 L1972.3 1524.7 L1974.0 1523.3 L1975.7 1521.8 L1977.4 1520.3 L1979.1 1518.7 L1980.7 1517.0 L1982.4 1515.3 L1984.1 1513.5 L1985.8 1511.6 L1987.5 1509.6 L1989.2 1507.6 L1990.9 1505.4 L1992.6 1503.2 L1994.3 1500.9 L1996.0 1498.6 L1997.7 1496.1 L1999.4 1493.6 L2001.1 1490.9 L2002.8 1488.2 L2004.5 1485.4 L2006.2 1482.4 L2007.9 1479.4 L2009.6 1476.3 L2011.3 1473.1 L2013.0 1469.7 L2014.7 1466.3 L2016.4 1462.8 L2018.1 1459.1 L2019.8 1455.4 L2021.5 1451.5 L2023.1 1447.5 L2024.8 1443.5 L2026.5 1439.3 L2028.2 1435.0 L2029.9 1430.6 L2031.6 1426.0 L2033.3 1421.4 L2035.0 1416.6 L2036.7 1411.8 L2038.4 1406.8 L2040.1 1401.7 L2041.8 1396.5 L2043.5 1391.2 L2045.2 1385.8 L2046.9 1380.3 L2048.6 1374.7 L2050.3 1369.0 L2052.0 1363.2 L2053.7 1357.2 L2055.4 1351.2 L2057.1 1345.1 L2058.8 1338.9 L2060.5 1332.6 L2062.2 1326.2 L2063.9 1319.7 L2065.5 1313.2 L2067.2 1306.5 L2068.9 1299.8 L2070.6 1293.1 L2072.3 1286.2 L2074.0 1279.4 L2075.7 1272.4 L2077.4 1265.4 L2079.1 1258.4 L2080.8 1251.3 L2082.5 1244.2 L2084.2 1237.0 L2085.9 1229.8 L2087.6 1222.7 L2089.3 1215.5 L2091.0 1208.3 L2092.7 1201.1 L2094.4 1193.9 L2096.1 1186.7 L2097.8 1179.5 L2099.5 1172.4 L2101.2 1165.3 L2102.9 1158.2 L2104.6 1151.2 L2106.3 1144.3 L2107.9 1137.4 L2109.6 1130.6 L2111.3 1123.8 L2113.0 1117.2 L2114.7 1110.6 L2116.4 1104.2 L2118.1 1097.8 L2119.8 1091.6 L2121.5 1085.5 L2123.2 1079.5 L2124.9 1073.6 L2126.6 1067.9 L2128.3 1062.4 L2130.0 1057.0 L2131.7 1051.7 L2133.4 1046.6 L2135.1 1041.8 L2136.8 1037.0 L2138.5 1032.5 L2140.2 1028.2 L2141.9 1024.0 L2143.6 1020.1 L2145.3 1016.4 L2147.0 1012.9 L2148.7 1009.6 L2150.3 1006.5 L2152.0 1003.7 L2153.7 1001.0 L2155.4 998.7 L2157.1 996.5 L2158.8 994.6 L2160.5 993.0 L2162.2 991.5 L2163.9 990.4 L2165.6 989.4 L2167.3 988.8 L2169.0 988.3 L2170.7 988.2 L2172.4 988.2 L2174.1 988.6 L2175.8 989.1 L2177.5 990.0 L2179.2 991.0 L2180.9 992.4 L2182.6 993.9 L2184.3 995.7 L2186.0 997.8 L2187.7 1000.1 L2189.4 1002.6 L2191.1 1005.3 L2192.7 1008.3 L2194.4 1011.5 L2196.1 1014.9 L2197.8 1018.6 L2199.5 1022.4 L2201.2 1026.5 L2202.9 1030.7 L2204.6 1035.2 L2206.3 1039.8 L2208.0 1044.7 L2209.7 1049.7 L2211.4 1054.8 L2213.1 1060.2 L2214.8 1065.7 L2216.5 1071.3 L2218.2 1077.1 L2219.9 1083.1 L2221.6 1089.1 L2223.3 1095.3 L2225.0 1101.6 L2226.7 1108.0 L2228.4 1114.6 L2230.1 1121.2 L2231.8 1127.9 L2233.5 1134.7 L2235.1 1141.5 L2236.8 1148.4 L2238.5 1155.4 L2240.2 1162.5 L2241.9 1169.5 L2243.6 1176.7 L2245.3 1183.8 L2247.0 1191.0 L2248.7 1198.2 L2250.4 1205.4 L2252.1 1212.6 L2253.8 1219.8 L2255.5 1227.0 L2257.2 1234.2 L2258.9 1241.3 L2260.6 1248.4 L2262.3 1255.5 L2264.0 1262.6 L2265.7 1269.6 L2267.4 1276.6 L2269.1 1283.5 L2270.8 1290.4 L2272.5 1297.2 L2274.2 1303.9 L2275.9 1310.5 L2277.5 1317.1 L2279.2 1323.6 L2280.9 1330.0 L2282.6 1336.4 L2284.3 1342.6 L2286.0 1348.8 L2287.7 1354.8 L2289.4 1360.8 L2291.1 1366.7 L2292.8 1372.4 L2294.5 1378.1 L2296.2 1383.6 L2297.9 1389.1 L2299.6 1394.4 L2301.3 1399.7 L2303.0 1404.8 L2304.7 1409.8 L2306.4 1414.7 L2308.1 1419.5 L2309.8 1424.2 L2311.5 1428.8 L2313.2 1433.2 L2314.9 1437.6 L2316.6 1441.8 L2318.3 1445.9 L2319.9 1449.9 L2321.6 1453.8 L2323.3 1457.6 L2325.0 1461.3 L2326.7 1464.9 L2328.4 1468.4 L2330.1 1471.7 L2331.8 1475.0 L2333.5 1478.2 L2335.2 1481.2 L2336.9 1484.2 L2338.6 1487.1 L2340.3 1489.8 L2342.0 1492.5 L2343.7 1495.1 L2345.4 1497.6 L2347.1 1500.0 L2348.8 1502.3 L2350.5 1504.6 L2352.2 1506.7 L2353.9 1508.8 L2355.6 1510.8 L2357.3 1512.7 L2359.0 1514.6 L2360.7 1516.3 L2362.3 1518.0 L2364.0 1519.7 L2365.7 1521.2 L2367.4 1522.7 L2369.1 1524.2 L2370.8 1525.5 L2372.5 1526.9 L2374.2 1528.1 L2375.9 1529.3 L2377.6 1530.5 L2379.3 1531.6 L2381.0 1532.6 L2382.7 1533.6 L2384.4 1534.6 L2386.1 1535.5 L2387.8 1536.3 L2389.5 1537.2 L2391.2 1538.0 L2392.9 1538.7 L2394.6 1539.4 L2396.3 1540.1 L2398.0 1540.7 L2399.7 1541.3 L2401.4 1541.9 L2403.1 1542.5 L2404.7 1543.0 L2406.4 1543.5 L2408.1 1543.9 L2409.8 1544.4 L2411.5 1544.8 L2413.2 1545.2 L2414.9 1545.6 L2416.6 1545.9 L2418.3 1546.2 L2420.0 1546.5 L2421.7 1546.8 L2423.4 1547.1 L2425.1 1547.4 L2426.8 1547.6 L2428.5 1547.9 L2430.2 1548.1 L2431.9 1548.3 L2433.6 1548.5 L2435.3 1548.7 L2437.0 1548.8 L2438.7 1549.0" fill="none" stroke="#0000ff" stroke-width="15" stroke-dasharray="0 25.15" stroke-linecap="round" stroke-linejoin="round"/>
<rect x="299.4" y="1537.0" width="28.4" height="28.4" fill="#7f00ff"/>
<line x1="381.4" x2="381.4" y1="1517.7" y2="1550.2" stroke="#7f00ff" stroke-width="6.8" stroke-linecap="round"/>
<rect x="367.2" y="1519.8" width="28.4" height="28.4" fill="#7f00ff"/>
<rect x="435.1" y="1537.0" width="28.4" height="28.4" fill="#7f00ff"/>
<rect x="502.9" y="1537.0" width="28.4" height="28.4" fill="#7f00ff"/>
<rect x="570.7" y="1537.0" width="28.4" height="28.4" fill="#7f00ff"/>
<line x1="652.8" x2="652.8" y1="1517.7" y2="1550.2" stroke="#7f00ff" stroke-width="6.8" stroke-linecap="round"/>
<rect x="638.6" y="1519.8" width="28.4" height="28.4" fill="#7f00ff"/>
<rect x="706.4" y="1537.0" width="28.4" height="28.4" fill="#7f00ff"/>
<rect x="774.3" y="1537.0" width="28.4" height="28.4" fill="#7f00ff"/>
<rect x="842.1" y="1537.0" width="28.4" height="28.4" fill="#7f00ff"/>
<rect x="909.9" y="1537.0" width="28.4" height="28.4" fill="#7f00ff"/>
<line x1="992.0" x2="992.0" y1="1517.7" y2="1550.2" stroke="#7f00ff" stroke-width="6.8" stroke-linecap="round"/>
<rect x="977.8" y="1519.8" width="28.4" height="28.4" fill="#7f00ff"/>
<rect x="1045.6" y="1537.0" width="28.4" height="28.4" fill="#7f00ff"/>
<line x1="1127.7" x2="1127.7" y1="1493.7" y2="1539.7" stroke="#7f00ff" stroke-width="6.8" stroke-linecap="round"/>
<rect x="1113.5" y="1502.5" width="28.4" height="28.4" fill="#7f00ff"/>
<line x1="1195.5" x2="1195.5" y1="1471.3" y2="1527.6" stroke="#7f00ff" stroke-width="6.8" stroke-linecap="round"/>
<rect x="1181.3" y="1485.2" width="28.4" height="28.4" fill="#7f00ff"/>
<line x1="1263.3" x2="1263.3" y1="1471.3" y2="1527.6" stroke="#7f00ff" stroke-width="6.8" stroke-linecap="round"/>
<rect x="1249.1" y="1485.2" width="28.4" height="28.4" fill="#7f00ff"/>
<line x1="1331.2" x2="1331.2" y1="1493.7" y2="1539.7" stroke="#7f00ff" stroke-width="6.8" stroke-linecap="round"/>
<rect x="1317.0" y="1502.5" width="28.4" height="28.4" fill="#7f00ff"/>
<line x1="1399.0" x2="1399.0" y1="1471.3" y2="1527.6" stroke="#7f00ff" stroke-width="6.8" stroke-linecap="round"/>
<rect x="1384.8" y="1485.2" width="28.4" height="28.4" fill="#7f00ff"/>
<line x1="1466.9" x2="1466.9" y1="1449.7" y2="1514.7" stroke="#7f00ff" stroke-width="6.8" stroke-linecap="round"/>
<rect x="1452.7" y="1468.0" width="28.4" height="28.4" fill="#7f00ff"/>
<line x1="1534.7" x2="1534.7" y1="1471.3" y2="1527.6" stroke="#7f00ff" stroke-width="6.8" stroke-linecap="round"/>
<rect x="1520.5" y="1485.2" width="28.4" height="28.4" fill="#7f00ff"/>
<line x1="1602.5" x2="1602.5" y1="1387.4" y2="1473.5" stroke="#7f00ff" stroke-width="6.8" stroke-linecap="round"/>
<rect x="1588.3" y="1416.2" width="28.4" height="28.4" fill="#7f00ff"/>
<line x1="1670.4" x2="1670.4" y1="1287.9" y2="1400.5" stroke="#7f00ff" stroke-width="6.8" stroke-linecap="round"/>
<rect x="1656.2" y="1330.0" width="28.4" height="28.4" fill="#7f00ff"/>
<line x1="1738.2" x2="1738.2" y1="1210.2" y2="1340.2" stroke="#7f00ff" stroke-width="6.8" stroke-linecap="round"/>
<rect x="1724.0" y="1261.0" width="28.4" height="28.4" fill="#7f00ff"/>
<line x1="1806.1" x2="1806.1" y1="1210.2" y2="1340.2" stroke="#7f00ff" stroke-width="6.8" stroke-linecap="round"/>
<rect x="1791.9" y="1261.0" width="28.4" height="28.4" fill="#7f00ff"/>
<line x1="1873.9" x2="1873.9" y1="963.4" y2="1138.5" stroke="#7f00ff" stroke-width="6.8" stroke-linecap="round"/>
<rect x="1859.7" y="1036.8" width="28.4" height="28.4" fill="#7f00ff"/>
<line x1="1941.7" x2="1941.7" y1="907.2" y2="1091.2" stroke="#7f00ff" stroke-width="6.8" stroke-linecap="round"/>
<rect x="1927.5" y="985.0" width="28.4" height="28.4" fill="#7f00ff"/>
<line x1="2009.6" x2="2009.6" y1="1019.8" y2="1185.6" stroke="#7f00ff" stroke-width="6.8" stroke-linecap="round"/>
<rect x="1995.4" y="1088.5" width="28.4" height="28.4" fill="#7f00ff"/>
<line x1="2077.4" x2="2077.4" y1="1210.2" y2="1340.2" stroke="#7f00ff" stroke-width="6.8" stroke-linecap="round"/>
<rect x="2063.2" y="1261.0" width="28.4" height="28.4" fill="#7f00ff"/>
<line x1="2145.3" x2="2145.3" y1="1493.7" y2="1539.7" stroke="#7f00ff" stroke-width="6.8" stroke-linecap="round"/>
<rect x="2131.1" y="1502.5" width="28.4" height="28.4" fill="#7f00ff"/>
<line x1="2213.1" x2="2213.1" y1="1517.7" y2="1550.2" stroke="#7f00ff" stroke-width="6.8" stroke-linecap="round"/>
<rect x="2198.9" y="1519.8" width="28.4" height="28.4" fill="#7f00ff"/>
<path d="M1569.3 1550.5 L1571.0 1550.5 L1572.7 1550.4 L1574.4 1550.4 L1576.1 1550.3 L1577.8 1550.3 L1579.5 1550.2 L1581.2 1550.2 L1582.9 1550.1 L1584.6 1550.0 L1586.3 1550.0 L1588.0 1549.9 L1589.7 1549.8 L1591.3 1549.7 L1593.0 1549.6 L1594.7 1549.5 L1596.4 1549.4 L1598.1 1549.3 L1599.8 1549.2 L1601.5 1549.1 L1603.2 1549.0 L1604.9 1548.8 L1606.6 1548.7 L1608.3 1548.5 L1610.0 1548.4 L1611.7 1548.2 L1613.4 1548.0 L1615.1 1547.9 L1616.8 1547.7 L1618.5 1547.5 L1620.2 1547.3 L1621.9 1547.0 L1623.6 1546.8 L1625.3 1546.6 L1627.0 1546.3 L1628.7 1546.1 L1630.4 1545.8 L1632.1 1545.5 L1633.7 1545.2 L1635.4 1544.8 L1637.1 1544.5 L1638.8 1544.2 L1640.5 1543.8 L1642.2 1543.4 L1643.9 1543.0 L1645.6 1542.6 L1647.3 1542.1 L1649.0 1541.7 L1650.7 1541.2 L1652.4 1540.7 L1654.1 1540.1 L1655.8 1539.6 L1657.5 1539.0 L1659.2 1538.4 L1660.9 1537.8 L1662.6 1537.2 L1664.3 1536.5 L1666.0 1535.8 L1667.7 1535.0 L1669.4 1534.3 L1671.1 1533.5 L1672.8 1532.7 L1674.5 1531.8 L1676.1 1530.9 L1677.8 1530.0 L1679.5 1529.0 L1681.2 1528.0 L1682.9 1527.0 L1684.6 1525.9 L1686.3 1524.8 L1688.0 1523.6 L1689.7 1522.4 L1691.4 1521.2 L1693.1 1519.9 L1694.8 1518.6 L1696.5 1517.2 L1698.2 1515.7 L1699.9 1514.3 L1701.6 1512.7 L1703.3 1511.2 L1705.0 1509.5 L1706.7 1507.9 L1708.4 1506.1 L1710.1 1504.3 L1711.8 1502.5 L1713.5 1500.6 L1715.2 1498.6 L1716.9 1496.6 L1718.5 1494.5 L1720.2 1492.3 L1721.9 1490.1 L1723.6 1487.8 L1725.3 1485.5 L1727.0 1483.1 L1728.7 1480.6 L1730.4 1478.0 L1732.1 1475.4 L1733.8 1472.7 L1735.5 1470.0 L1737.2 1467.1 L1738.9 1464.2 L1740.6 1461.2 L1742.3 1458.2 L1744.0 1455.1 L1745.7 1451.9 L1747.4 1448.6 L1749.1 1445.2 L1750.8 1441.8 L1752.5 1438.3 L1754.2 1434.7 L1755.9 1431.0 L1757.6 1427.3 L1759.3 1423.4 L1760.9 1419.5 L1762.6 1415.5 L1764.3 1411.5 L1766.0 1407.3 L1767.7 1403.1 L1769.4 1398.8 L1771.1 1394.4 L1772.8 1390.0 L1774.5 1385.4 L1776.2 1380.8 L1777.9 1376.1 L1779.6 1371.4 L1781.3 1366.5 L1783.0 1361.6 L1784.7 1356.7 L1786.4 1351.6 L1788.1 1346.5 L1789.8 1341.3 L1791.5 1336.0 L1793.2 1330.7 L1794.9 1325.3 L1796.6 1319.8 L1798.3 1314.3 L1800.0 1308.7 L1801.7 1303.1 L1803.3 1297.4 L1805.0 1291.7 L1806.7 1285.9 L1808.4 1280.0 L1810.1 1274.1 L1811.8 1268.2 L1813.5 1262.2 L1815.2 1256.2 L1816.9 1250.2 L1818.6 1244.1 L1820.3 1238.0 L1822.0 1231.8 L1823.7 1225.7 L1825.4 1219.5 L1827.1 1213.3 L1828.8 1207.1 L1830.5 1200.8 L1832.2 1194.6 L1833.9 1188.4 L1835.6 1182.1 L1837.3 1175.9 L1839.0 1169.7 L1840.7 1163.5 L1842.4 1157.3 L1844.1 1151.1 L1845.7 1145.0 L1847.4 1138.8 L1849.1 1132.8 L1850.8 1126.7 L1852.5 1120.7 L1854.2 1114.7 L1855.9 1108.8 L1857.6 1102.9 L1859.3 1097.1 L1861.0 1091.4 L1862.7 1085.7 L1864.4 1080.1 L1866.1 1074.6 L1867.8 1069.1 L1869.5 1063.7 L1871.2 1058.4 L1872.9 1053.2 L1874.6 1048.1 L1876.3 1043.1 L1878.0 1038.2 L1879.7 1033.4 L1881.4 1028.8 L1883.1 1024.2 L1884.8 1019.7 L1886.5 1015.4 L1888.1 1011.2 L1889.8 1007.1 L1891.5 1003.2 L1893.2 999.4 L1894.9 995.7 L1896.6 992.2 L1898.3 988.8 L1900.0 985.5 L1901.7 982.5 L1903.4 979.5 L1905.1 976.8 L1906.8 974.1 L1908.5 971.7 L1910.2 969.4 L1911.9 967.3 L1913.6 965.3 L1915.3 963.5 L1917.0 961.9 L1918.7 960.4 L1920.4 959.1 L1922.1 958.0 L1923.8 957.1 L1925.5 956.3 L1927.2 955.7 L1928.9 955.3 L1930.5 955.1 L1932.2 955.0 L1933.9 955.2 L1935.6 955.5 L1937.3 955.9 L1939.0 956.6 L1940.7 957.4 L1942.4 958.4 L1944.1 959.6 L1945.8 961.0 L1947.5 962.5 L1949.2 964.2 L1950.9 966.1 L1952.6 968.1 L1954.3 970.3 L1956.0 972.6 L1957.7 975.2 L1959.4 977.8 L1961.1 980.7 L1962.8 983.7 L1964.5 986.8 L1966.2 990.1 L1967.9 993.6 L1969.6 997.1 L1971.3 1000.9 L1972.9 1004.7 L1974.6 1008.7 L1976.3 1012.9 L1978.0 1017.1 L1979.7 1021.5 L1981.4 1026.0 L1983.1 1030.6 L1984.8 1035.3 L1986.5 1040.2 L1988.2 1045.1 L1989.9 1050.2 L1991.6 1055.3 L1993.3 1060.5 L1995.0 1065.9 L1996.7 1071.3 L1998.4 1076.8 L2000.1 1082.3 L2001.8 1088.0 L2003.5 1093.7 L2005.2 1099.5 L2006.9 1105.3 L2008.6 1111.2 L2010.3 1117.1 L2012.0 1123.1 L2013.7 1129.1 L2015.3 1135.2 L2017.0 1141.3 L2018.7 1147.4 L2020.4 1153.6 L2022.1 1159.8 L2023.8 1166.0 L2025.5 1172.2 L2027.2 1178.4 L2028.9 1184.6 L2030.6 1190.9 L2032.3 1197.1 L2034.0 1203.3 L2035.7 1209.5 L2037.4 1215.7 L2039.1 1221.9 L2040.8 1228.1 L2042.5 1234.3 L2044.2 1240.4 L2045.9 1246.5 L2047.6 1252.6 L2049.3 1258.6 L2051.0 1264.6 L2052.7 1270.6 L2054.4 1276.5 L2056.1 1282.4 L2057.7 1288.2 L2059.4 1294.0 L2061.1 1299.7 L2062.8 1305.4 L2064.5 1311.0 L2066.2 1316.5 L2067.9 1322.0 L2069.6 1327.5 L2071.3 1332.8 L2073.0 1338.1 L2074.7 1343.4 L2076.4 1348.5 L2078.1 1353.6 L2079.8 1358.7 L2081.5 1363.6 L2083.2 1368.5 L2084.9 1373.3 L2086.6 1378.0 L2088.3 1382.7 L2090.0 1387.3 L2091.7 1391.8 L2093.4 1396.2 L2095.1 1400.5 L2096.8 1404.8 L2098.5 1409.0 L2100.1 1413.1 L2101.8 1417.1 L2103.5 1421.1 L2105.2 1425.0 L2106.9 1428.8 L2108.6 1432.5 L2110.3 1436.1 L2112.0 1439.7 L2113.7 1443.2 L2115.4 1446.6 L2117.1 1449.9 L2118.8 1453.1 L2120.5 1456.3 L2122.2 1459.4 L2123.9 1462.4 L2125.6 1465.4 L2127.3 1468.3 L2129.0 1471.1 L2130.7 1473.8 L2132.4 1476.5 L2134.1 1479.1 L2135.8 1481.6 L2137.5 1484.0 L2139.2 1486.4 L2140.9 1488.7 L2142.5 1491.0 L2144.2 1493.2 L2145.9 1495.3 L2147.6 1497.4 L2149.3 1499.4 L2151.0 1501.3 L2152.7 1503.2 L2154.4 1505.0 L2156.1 1506.8 L2157.8 1508.5 L2159.5 1510.2 L2161.2 1511.8 L2162.9 1513.4 L2164.6 1514.9 L2166.3 1516.3 L2168.0 1517.7 L2169.7 1519.1 L2171.4 1520.4 L2173.1 1521.7 L2174.8 1522.9 L2176.5 1524.1 L2178.2 1525.2 L2179.9 1526.3 L2181.6 1527.4 L2183.3 1528.4 L2184.9 1529.4 L2186.6 1530.4 L2188.3 1531.3 L2190.0 1532.1 L2191.7 1533.0 L2193.4 1533.8 L2195.1 1534.6 L2196.8 1535.3 L2198.5 1536.1 L2200.2 1536.8 L2201.9 1537.4 L2203.6 1538.1 L2205.3 1538.7 L2207.0 1539.3 L2208.7 1539.8 L2210.4 1540.4 L2212.1 1540.9 L2213.8 1541.4 L2215.5 1541.9 L2217.2 1542.3 L2218.9 1542.7 L2220.6 1543.2 L2222.3 1543.6 L2224.0 1543.9 L2225.7 1544.3 L2227.3 1544.6 L2229.0 1545.0" fill="none" stroke="#800080" stroke-width="10" stroke-dasharray="12.5 25.88" stroke-linecap="round" stroke-linejoin="round"/>
</g>
<rect x="1893.1" y="142" width="7.9" height="682.9" fill="#404040"/>
<rect x="1928.1" y="142" width="7.9" height="1435" fill="#404040"/>
<g fill="#000" stroke="none">
<rect x="1772" y="158.5" width="100" height="6.5"/>
<polygon points="1864,151 1903,161.7 1864,172"/>
<rect x="1955" y="158.5" width="157" height="6.5"/>
<polygon points="1964,151 1926,161.7 1964,172"/>
</g>
<rect x="1900.8" y="158.5" width="27.2" height="6.5" fill="#404040"/>
<g fill="#000" stroke="#000" stroke-linejoin="round">
<text transform="translate(346.5,1639.4) scale(1,0.985)" font-size="63.4" text-anchor="middle" stroke-width="2.4" >1500</text>
<text transform="translate(685.7,1639.4) scale(1,0.985)" font-size="63.4" text-anchor="middle" stroke-width="2.4" >1600</text>
<text transform="translate(1024.9,1639.4) scale(1,0.985)" font-size="63.4" text-anchor="middle" stroke-width="2.4" >1700</text>
<text transform="translate(1364.1,1639.4) scale(1,0.985)" font-size="63.4" text-anchor="middle" stroke-width="2.4" >1800</text>
<text transform="translate(1703.3,1639.4) scale(1,0.985)" font-size="63.4" text-anchor="middle" stroke-width="2.4" >1900</text>
<text transform="translate(2042.5,1639.4) scale(1,0.985)" font-size="63.4" text-anchor="middle" stroke-width="2.4" >2000</text>
<text transform="translate(2381.7,1639.4) scale(1,0.985)" font-size="63.4" text-anchor="middle" stroke-width="2.4" >2100</text>
<text transform="translate(266.5,821.8) scale(1,1.01)" font-size="63.4" text-anchor="end" stroke-width="2.4" >0</text>
<text transform="translate(266.5,622.5) scale(1,1.01)" font-size="63.4" text-anchor="end" stroke-width="2.4" >2000</text>
<text transform="translate(266.5,423.1) scale(1,1.01)" font-size="63.4" text-anchor="end" stroke-width="2.4" >4000</text>
<text transform="translate(266.5,223.8) scale(1,1.01)" font-size="63.4" text-anchor="end" stroke-width="2.4" >6000</text>
<text transform="translate(270.3,1576.3) scale(1,1.01)" font-size="63.4" text-anchor="end" stroke-width="2.4" >0</text>
<text transform="translate(270.3,1300.3) scale(1,1.01)" font-size="63.4" text-anchor="end" stroke-width="2.4" >10</text>
<text transform="translate(270.3,1024.3) scale(1,1.01)" font-size="63.4" text-anchor="end" stroke-width="2.4" >20</text>
<text transform="translate(1363.6,1731.4) scale(1,1.0)" font-size="75.8" text-anchor="middle" stroke-width="0.8" ><tspan font-size="79.4">E</tspan>nergy (ke<tspan font-size="79.4">V</tspan>)</text>
<text transform="translate(92.4,440.2) rotate(-90) scale(1,1.0)" font-size="76.5" text-anchor="middle" stroke-width="0.8" ><tspan font-size="79.8">C</tspan>ounts / 10 ke<tspan font-size="79.8">V</tspan></text>
<text transform="translate(123.8,1175) rotate(-90) scale(1,1.0)" font-size="76.3" text-anchor="middle" stroke-width="0.8" ><tspan font-size="79.6">C</tspan>ounts (arb. units)</text>
<text transform="translate(535.5,308.7) scale(1,1.045)" font-size="57.7" text-anchor="start" stroke-width="0.8" >TRIM</text>
<text transform="translate(535.2,384) scale(1,1.01)" font-size="57.7" text-anchor="start" stroke-width="0.8" >Gauss fit</text>
<text transform="translate(523.5,981.2) scale(1,1.015)" font-size="57.7" text-anchor="start" stroke-width="0.8" >Lennard <tspan font-style="italic" dx="5">et al</tspan>.</text>
<text transform="translate(523.5,1054.9) scale(1,1.01)" font-size="57.7" text-anchor="start" stroke-width="0.8" >Gauss fit</text>
<text transform="translate(522.5,1136.8) scale(1,1.03)" font-size="57.7" text-anchor="start" stroke-width="0.8" >TRIM <tspan dx="3">(</tspan><tspan dx="2" font-family="'Liberation Serif', serif" font-weight="normal" stroke-width="2">θ</tspan><tspan font-size="38.5" dy="14.5" dx="1">out</tspan><tspan dy="-14.5" dx="17" font-weight="normal" stroke-width="1.5">&lt;</tspan><tspan dx="14" stroke-width="1.8">0.17</tspan><tspan font-size="40" dy="-19.5" dx="1">o</tspan><tspan dy="19.5" dx="2">)</tspan></text>
<text transform="translate(523.5,1223.1) scale(1,1.01)" font-size="57.7" text-anchor="start" stroke-width="0.8" >Gauss fit</text>
<text transform="translate(1992,146.6) scale(1,1.045)" font-size="59" text-anchor="start" stroke-width="0.8" ><tspan font-size="60" font-family="'Liberation Serif', 'DejaVu Serif', serif" stroke-width="1.5">δ</tspan><tspan x="34">E</tspan></text>
</g>
<g fill="#800080" stroke="#800080" stroke-linejoin="round">
<text transform="translate(347,194.3) scale(1,1.02)" font-size="70.6" text-anchor="start" stroke-width="1.1" ><tspan font-size="47" dy="-30">136</tspan><tspan dy="30">Xe (0.8v</tspan><tspan font-size="47" dy="18.5">0</tspan><tspan dy="-18.5">) </tspan><tspan font-family="'Liberation Serif', serif" font-weight="normal" stroke-width="1.8" dx="1">=&gt;</tspan><tspan dx="2"> C (28.64 </tspan><tspan font-family="'Liberation Serif', serif" font-weight="normal" stroke-width="2.2">μ</tspan><tspan dx="2">g/cm</tspan><tspan font-size="47" dy="-30">2</tspan><tspan dy="30">)</tspan></text>
</g>
<line x1="387" x2="518" y1="289.5" y2="289.5" stroke="#0000ff" stroke-width="9" stroke-linecap="round"/>
<rect x="442.8" y="280.2" width="19.2" height="19.2" fill="#80ffff" stroke="#000099" stroke-width="5.5"/>
<path d="M388 363.7 H520" stroke="#800080" stroke-width="10.5" stroke-dasharray="12.5 26" stroke-linecap="round" fill="none"/>
<circle cx="440.3" cy="961.9" r="16" fill="#000099"/>
<path d="M374.4 1036.1 H505" stroke="#0000ff" stroke-width="15" stroke-dasharray="0 25.15" stroke-linecap="round" fill="none"/>
<rect x="426" y="1103" width="29.3" height="29.3" fill="#7f00ff"/>
<path d="M375.3 1204.9 H512" stroke="#800080" stroke-width="10" stroke-dasharray="12.7 25.8" stroke-linecap="round" fill="none"/>
</svg>
</body></html>
